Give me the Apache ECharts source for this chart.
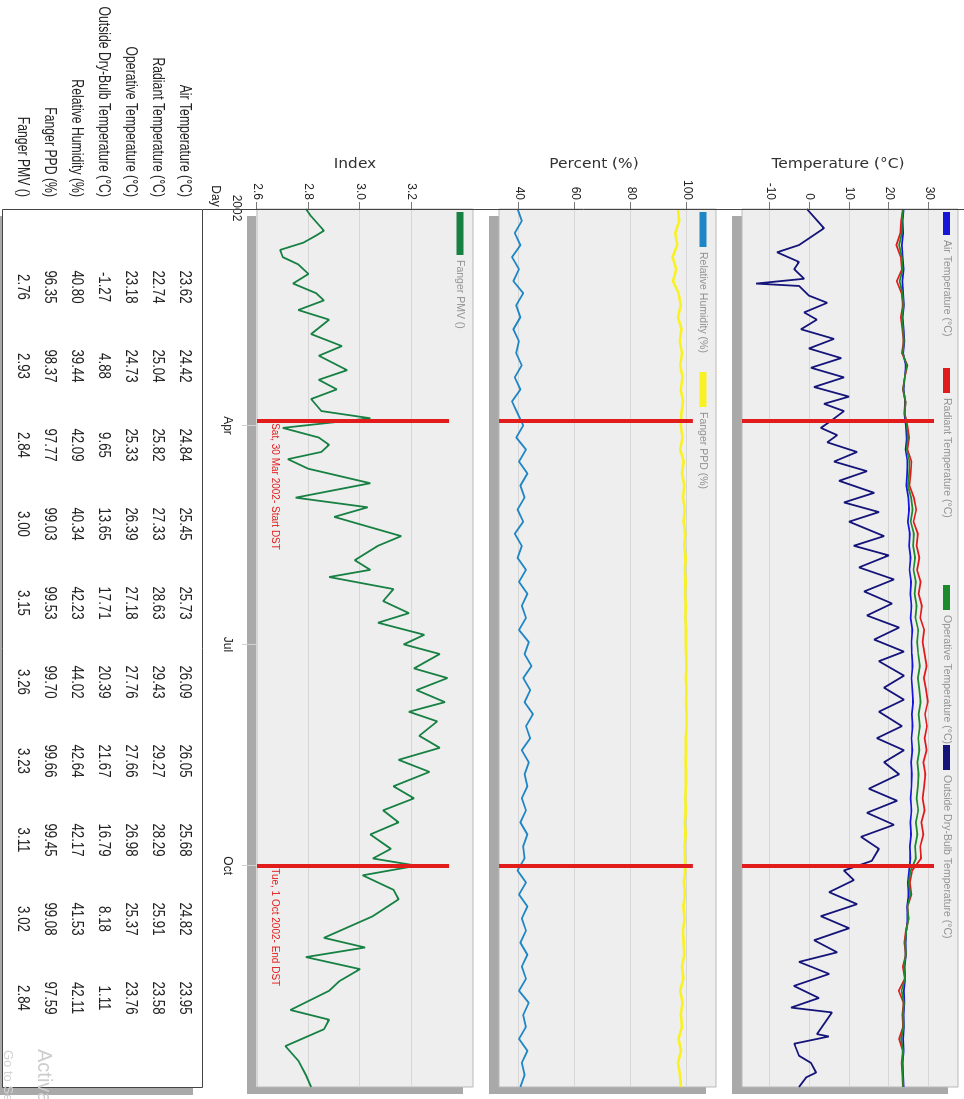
<!DOCTYPE html>
<html>
<head>
<meta charset="utf-8">
<script src="https://cdn.jsdelivr.net/npm/echarts@6/dist/echarts.min.js"></script>
<style>
  html, body { margin: 0; padding: 0; background: #fff; overflow: hidden; }
  /* the whole picture is the chart turned a quarter turn clockwise */
  #chart { position: absolute; left: 0; top: 0; width: 1099px; height: 964px;
           transform-origin: 0 0; transform: translate(964px, 0) rotate(90deg); }
</style>
</head>
<body>
<div id="chart"></div>
<script>
  // day of year 2002 (0 = 1 Jan)
  const days = [0,5,10,15,20,25,30,35,40,45,50,55,60,65,70,75,80,85,90,95,100,105,110,115,120,125,130,135,140,145,150,155,160,165,170,175,180,185,190,195,200,205,210,215,220,225,230,235,240,245,250,255,260,265,270,275,280,285,290,295,300,305,310,315,320,325,330,335,340,345,350,355,360,365]

  const airTemp = [23.6,23.4,23.5,23.2,23.4,23.6,23.3, 23.5,23.7,23.4,23.6,23.8, 23.5,24.2,23.9,23.6,24.0,23.8,
    24.2,24.4,24.1,24.6,24.5,24.3, 24.8,25.0,24.7,25.2,25.0,25.4,25.1, 25.5,25.3,25.6,25.4,25.8,25.6,
    25.7,25.9,25.6,25.8,26.0,25.7, 25.9,25.6,25.8,25.5,25.7,25.6, 25.4,25.6,25.3,25.5,25.2,25.3,
    25.0,24.7,24.9,24.5,24.6,24.3, 24.1,24.2,23.9,24.0,23.7,23.8, 23.6,23.7,23.5,23.6,23.4,23.5,23.6]
  const radiantTemp = [23.4,23.0,22.8,21.8,22.9,23.2,21.9, 23.1,23.4,22.9,23.3,23.6, 23.2,24.6,23.9,23.4,24.1,23.9,
    24.6,25.0,24.6,25.6,25.4,25.1, 26.2,26.8,26.1,27.2,26.9,27.6,27.0, 27.9,27.4,28.2,27.8,28.8,28.4,
    28.9,29.4,28.7,29.3,29.7,29.0, 29.5,28.9,29.4,28.6,29.1,28.8, 28.4,28.9,28.1,28.6,27.8,28.0,
    25.8,25.2,25.6,24.6,24.9,24.2, 23.8,24.2,23.4,23.9,22.4,23.6, 23.3,23.5,22.5,23.4,23.1,23.3,23.4]
  const operativeTemp = [23.5,23.2,23.2,22.5,23.2,23.4,22.6, 23.3,23.6,23.2,23.5,23.7, 23.4,24.4,23.9,23.5,24.1,23.9,
    24.4,24.7,24.4,25.1,25.0,24.7, 25.5,25.9,25.4,26.2,26.0,26.5,26.1, 26.7,26.4,26.9,26.6,27.3,27.0,
    27.3,27.7,27.2,27.6,27.9,27.4, 27.7,27.3,27.6,27.1,27.4,27.2, 26.9,27.3,26.7,27.1,26.5,26.7,
    25.4,24.9,25.3,24.6,24.8,24.3, 24.0,24.2,23.7,24.0,23.1,23.7, 23.5,23.6,23.0,23.5,23.3,23.4,23.5]
  const relHumidity = [39.5,41.0,38.5,40.5,37.5,40.0,38.0, 41.5,39.0,40.5,38.0,40.0, 39.0,41.0,38.5,40.5,37.5,39.5,
    41.5,39.0,42.5,40.0,43.0,40.5, 42.0,39.5,41.5,38.5,41.0,39.5,42.5, 40.0,43.0,41.0,42.5,40.0,43.5,
    42.0,44.5,41.5,44.0,42.0,45.0, 42.5,44.0,41.0,43.5,42.0,43.0, 41.0,42.5,40.5,43.0,41.5,42.0,
    39.5,42.5,40.0,43.0,41.0,42.5, 40.5,43.0,41.0,42.5,40.0,43.5, 41.5,42.5,40.0,43.0,41.0,42.0,40.5]
  const fangerPPD = [96.8,97.2,95.8,96.5,94.8,96.2,95.0, 97.0,97.8,96.8,98.0,97.4, 98.2,97.6,98.4,97.8,98.6,98.0,
    97.8,98.4,97.6,98.8,98.2,99.0, 98.6,99.2,98.8,99.4,99.0,99.5,99.2, 99.5,99.3,99.6,99.4,99.7,99.6,
    99.7,99.8,99.6,99.8,99.7,99.8, 99.8,99.6,99.7,99.5,99.7,99.6, 99.4,99.6,99.2,99.5,99.1,99.3,
    99.4,98.9,99.3,98.7,99.1,98.6, 98.8,99.0,98.2,98.7,97.6,98.4, 97.8,98.2,97.0,97.9,96.8,97.5,97.8]

  const outsideDays = [0,8,15,18,22,25,29,31,32,36,39,43,46,50,54,58,62,66,70,74,78,81,84,88,91,94,97,101,105,109,
    113,118,122,126,130,136,140,144,149,154,159,164,169,174,179,184,188,194,199,204,209,215,220,225,230,235,
    241,246,251,256,261,266,271,275,279,284,289,294,299,304,309,313,318,323,328,332,334,343,344,347,352,355,359,361,365]
  const outsideTemp = [-0.7,3.6,-2.7,-8.2,-2.7,-3.9,-1.4,-13.5,-2.7,-0.2,4.4,-1.4,1.8,-2.2,6.1,-0.2,7.9,0.3,8.6,1.1,
    9.9,3.6,8.6,5.4,2.8,6.9,4.4,11.9,6.1,14.4,7.4,16.2,8.6,17.4,9.9,18.7,11.1,19.9,12.4,21.2,13.7,20.7,14.4,22.5,
    16.2,23.7,17.4,23.7,18.7,23.7,17.4,23.2,16.9,23.7,18.7,22.5,14.9,22.0,14.4,21.2,12.9,17.4,15.6,8.6,11.1,4.9,
    11.9,2.8,9.9,1.1,6.9,-2.7,4.9,-4.0,2.3,-4.7,5.6,1.8,4.8,-3.9,-2.7,0.3,1.6,-0.9,-2.7]

  const pmvDays = [0,3,9,11,14,17,20,23,27,31,35,38,42,46,52,57,61,67,71,75,79,84,87,91,95,98,101,104,108,114,
    120,124,128,136,140,146,150,153,158,163,168,172,177,181,185,191,195,200,205,209,213,219,224,229,234,240,
    245,250,255,260,266,270,273,277,283,287,294,303,307,311,316,321,325,333,337,341,348,354,360,365]
  const fangerPMV = [2.79,2.81,2.86,2.83,2.78,2.69,2.70,2.76,2.80,2.74,2.83,2.86,2.76,2.88,2.81,2.93,2.84,2.95,2.84,2.91,
    2.81,2.85,3.04,2.70,2.84,2.88,2.85,2.72,2.80,3.04,2.75,3.03,2.90,3.16,3.07,2.98,3.04,2.88,3.13,3.09,
    3.19,3.07,3.25,3.17,3.31,3.21,3.34,3.22,3.33,3.19,3.30,3.23,3.31,3.15,3.27,3.13,3.21,3.09,3.15,3.04,
    3.12,3.05,3.22,3.01,3.13,3.15,3.05,2.86,3.02,2.79,3.00,2.92,2.88,2.73,2.88,2.86,2.71,2.76,2.79,2.81]

  const monthTickDays = [90, 181, 273]
  const monthLabels = ['Apr', 'Jul', 'Oct']
  const dstDays = [88, 273]
  const dstLabels = ['Sat, 30 Mar 2002- Start DST', 'Tue, 1 Oct 2002- End DST']

  const tempTicks = [-10, 0, 10, 20, 30]
  const percentTicks = [40, 60, 80, 100]
  const indexTicks = [2.6, 2.8, 3.0, 3.2]

  // grid below the chart
  const tableRows = ['Air Temperature (°C)', 'Radiant Temperature (°C)', 'Operative Temperature (°C)',
    'Outside Dry-Bulb Temperature (°C)', 'Relative Humidity (%)', 'Fanger PPD (%)', 'Fanger PMV ()']
  const tableAir = [23.62, 24.42, 24.84, 25.45, 25.73, 26.09, 26.05, 25.68, 24.82, 23.95]
  const tableRadiant = [22.74, 25.04, 25.82, 27.33, 28.63, 29.43, 29.27, 28.29, 25.91, 23.58]
  const tableOperative = [23.18, 24.73, 25.33, 26.39, 27.18, 27.76, 27.66, 26.98, 25.37, 23.76]
  const tableOutside = [-1.27, 4.88, 9.65, 13.65, 17.71, 20.39, 21.67, 16.79, 8.18, 1.11]
  const tableRH = [40.80, 39.44, 42.09, 40.34, 42.23, 44.02, 42.64, 42.17, 41.53, 42.11]
  const tablePPD = [96.35, 98.37, 97.77, 99.03, 99.53, 99.70, 99.66, 99.45, 99.08, 97.59]
  const tablePMV = [2.76, 2.93, 2.84, 3.00, 3.15, 3.26, 3.23, 3.11, 3.02, 2.84]

  const SANS = '"Liberation Sans", Arial, sans-serif'
  const RED = '#e21b1b'
  const SHADOW = '#a9a9a9'

  const chart = echarts.init(document.getElementById('chart'), null, { renderer: 'canvas' })

  const pairs = (xs, ys) => xs.map((x, i) => [x, ys[i]])

  const plots = [{ top: 6, height: 216 }, { top: 248, height: 217 }, { top: 491, height: 216 }]
  const gridStyle = { show: true, left: 209, width: 878, backgroundColor: '#eeeeee', borderColor: '#b9b9b9', borderWidth: 1 }

  function dayAxis(gridIndex, withLabels) {
    return {
      type: 'value', gridIndex, min: 0, max: 365,
      axisLine: { show: false },
      splitLine: { show: false },
      axisTick: { show: withLabels, length: 15, customValues: monthTickDays, lineStyle: { color: '#d2d2d2' } },
      axisLabel: {
        show: withLabels, customValues: monthTickDays, margin: 24,
        color: '#222', fontSize: 12, fontFamily: SANS,
        formatter: v => monthLabels[monthTickDays.indexOf(v)]
      }
    }
  }

  function valueAxis(gridIndex, min, max, ticks, fmt) {
    return {
      type: 'value', gridIndex, min, max,
      axisLine: { show: false },
      axisTick: { show: true, length: 7, customValues: ticks, lineStyle: { color: '#777' } },
      axisLabel: { customValues: ticks, margin: 9, color: '#222', fontSize: 12, fontFamily: SANS, formatter: fmt },
      splitLine: { show: true, lineStyle: { color: '#d7d7d7', width: 1 } }
    }
  }

  function dstMarkLine(bottom, top) {
    return {
      silent: true, symbol: ['none', 'none'], animation: false,
      label: { show: false },
      lineStyle: { color: RED, width: 4, type: 'solid', opacity: 1 },
      data: dstDays.map(d => [{ coord: [d, bottom] }, { coord: [d, top] }])
    }
  }

  function legendItem(name, left, top, iconW) {
    return {
      data: [name], left, top, padding: 0, itemWidth: iconW, itemHeight: 7,
      icon: 'rect', selectedMode: false,
      textStyle: { color: '#939393', fontSize: 10.5, fontFamily: SANS, lineHeight: 14 }
    }
  }

  function lineSeries(name, x, y, data, color, width) {
    return {
      name, type: 'line', xAxisIndex: x, yAxisIndex: y, data,
      symbol: 'none', showSymbol: false, animation: false,
      lineStyle: { color, width: width || 1.7 }, itemStyle: { color }
    }
  }

  const center = { align: 'center', verticalAlign: 'middle', textAlign: 'center', textVerticalAlign: 'middle' }

  // graphic: drop shadows, axis names, day labels, table, watermark
  const graphics = []
  plots.forEach(p => graphics.push({
    type: 'rect', z: -1, silent: true,
    shape: { x: 209 + 7, y: p.top + 10, width: 878, height: p.height }, style: { fill: SHADOW }
  }))
  const axisNames = [['Temperature (°C)', 126], ['Percent (%)', 370], ['Index', 609]]
  axisNames.forEach(([t, v]) => graphics.push({
    type: 'text', x: 164, y: v, rotation: Math.PI / 2, scaleX: 1.1,
    style: Object.assign({ text: t, fill: '#333', fontSize: 14, fontFamily: '"DejaVu Sans", Verdana, sans-serif' }, center)
  }))
  graphics.push({ type: 'text', x: 208, y: 728,
    style: Object.assign({ text: '2002', fill: '#222', fontSize: 12, fontFamily: SANS }, center) })
  graphics.push({ type: 'text', x: 196, y: 749,
    style: Object.assign({ text: 'Day', fill: '#222', fontSize: 12, fontFamily: SANS }, center) })
  graphics.push({ type: 'line', z: 10, shape: { x1: 209.5, y1: 0, x2: 209.5, y2: 761 },
    style: { stroke: '#444', lineWidth: 1 } })
  graphics.push({ type: 'rect', z: -1, silent: true, shape: { x: 216, y: 771, width: 879, height: 201 },
    style: { fill: SHADOW } })
  graphics.push({ type: 'rect', z: 1, shape: { x: 209.5, y: 761.5, width: 878, height: 200 },
    style: { fill: '#fff', stroke: '#444', lineWidth: 1 } })

  const tableData = [tableAir, tableRadiant, tableOperative, tableOutside, tableRH, tablePPD, tablePMV]
  tableRows.forEach((label, r) => {
    const v = 779 + r * 27
    graphics.push({ type: 'text', x: 197, y: v, scaleX: 0.72, z: 20,
      style: { text: label, fill: '#222', fontSize: 17, fontFamily: SANS, align: 'right', verticalAlign: 'middle',
               textAlign: 'right', textVerticalAlign: 'middle' } })
    tableData[r].forEach((val, c) => {
      graphics.push({ type: 'text', x: 287 + c * 79, y: v, scaleX: 0.78, z: 20,
        style: Object.assign({ text: val.toFixed(2), fill: '#222', fontSize: 17, fontFamily: SANS }, center) })
    })
  })
  graphics.push({ type: 'text', x: 1049, y: 920, z: 30,
    style: { text: 'Activate Windows', fill: '#cdcdcd', fontSize: 20, fontFamily: SANS, verticalAlign: 'middle',
             textVerticalAlign: 'middle' } })
  graphics.push({ type: 'text', x: 1050, y: 956, z: 30,
    style: { text: 'Go to Settings to activate Windows.', fill: '#d2d2d2', fontSize: 13, fontFamily: SANS,
             verticalAlign: 'middle', textVerticalAlign: 'middle' } })

  const pmvSeries = lineSeries('Fanger PMV ()', 2, 2, pairs(pmvDays, fangerPMV), '#178043', 1.8)
  pmvSeries.markLine = dstMarkLine(2.6, 3.346)
  pmvSeries.markPoint = {
    symbol: 'rect', symbolSize: 1, silent: true, animation: false,
    itemStyle: { color: 'rgba(0,0,0,0)' },
    label: { show: true, position: 'right', distance: 2, color: RED, fontSize: 10, fontFamily: SANS,
             formatter: p => p.name },
    data: dstDays.map((d, i) => ({ name: dstLabels[i], coord: [d, 2.67] }))
  }

  const outsideSeries = lineSeries('Outside Dry-Bulb Temperature (°C)', 0, 0, pairs(outsideDays, outsideTemp), '#14147a', 1.8)
  outsideSeries.markLine = dstMarkLine(-17.04, 31.27)
  const rhSeries = lineSeries('Relative Humidity (%)', 1, 1, pairs(days, relHumidity), '#1f86c6', 1.8)
  rhSeries.markLine = dstMarkLine(32.86, 102.1)

  chart.setOption({
    animation: false,
    backgroundColor: '#ffffff',
    grid: plots.map(p => Object.assign({}, gridStyle, p)),
    xAxis: [dayAxis(0, false), dayAxis(1, false), dayAxis(2, true)],
    yAxis: [
      valueAxis(0, -17.04, 37.3, tempTicks),
      valueAxis(1, 32.86, 110.36, percentTicks),
      valueAxis(2, 2.6, 3.439, indexTicks, v => v.toFixed(1))
    ],
    legend: [
      legendItem('Air Temperature (°C)', 212, 10.5, 23),
      legendItem('Radiant Temperature (°C)', 368, 10.5, 25),
      legendItem('Operative Temperature (°C)', 585, 10.5, 25),
      legendItem('Outside Dry-Bulb Temperature (°C)', 745, 10.5, 25),
      legendItem('Relative Humidity (%)', 212, 254, 35),
      legendItem('Fanger PPD (%)', 372, 254, 35),
      legendItem('Fanger PMV ()', 212, 497, 43)
    ],
    graphic: graphics,
    series: [
      lineSeries('Air Temperature (°C)', 0, 0, pairs(days, airTemp), '#1616d8'),
      lineSeries('Radiant Temperature (°C)', 0, 0, pairs(days, radiantTemp), '#e01b1b'),
      lineSeries('Operative Temperature (°C)', 0, 0, pairs(days, operativeTemp), '#1a8a2c'),
      outsideSeries,
      rhSeries,
      lineSeries('Fanger PPD (%)', 1, 1, pairs(days, fangerPPD), '#f8f224', 2.6),
      pmvSeries
    ]
  })
</script>
</body>
</html>
